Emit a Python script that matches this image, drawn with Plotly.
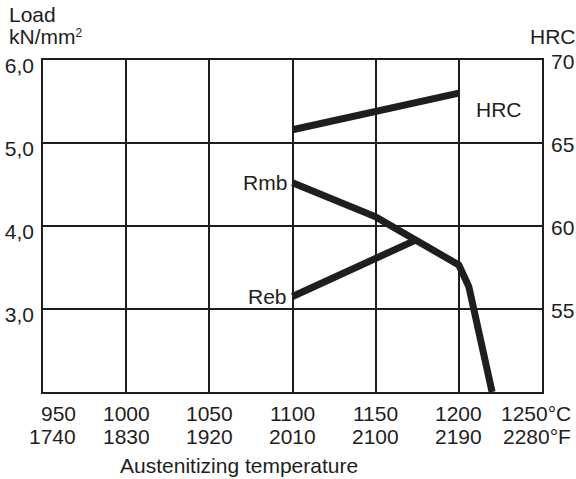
import plotly.graph_objects as go

# ---- data ----
temp_c_ticks = [950, 1000, 1050, 1100, 1150, 1200, 1250]
temp_c_labels = ["950", "1000", "1050", "1100", "1150", "1200", "1250°C"]
temp_f_labels = ["1740", "1830", "1920", "2010", "2100", "2190", "2280°F"]

load_ticks = [3, 4, 5, 6]
load_labels = ["3,0", "4,0", "5,0", "6,0"]
hrc_ticks = [55, 60, 65, 70]
hrc_labels = ["55", "60", "65", "70"]

hrc_t = [1100, 1200]
hrc_v = [65.8, 68.0]

rmb_t = [1100, 1150, 1200, 1206, 1220]
rmb_v = [4.52, 4.11, 3.53, 3.27, 2.0]

reb_t = [1100, 1174]
reb_v = [3.15, 3.83]

INK = "#1e1e1e"
FONT = "Liberation Sans, Arial, Helvetica, sans-serif"
FS = 21

fig = go.Figure()
line_style = dict(color=INK, width=7)
fig.add_trace(go.Scatter(x=rmb_t, y=rmb_v, mode="lines", line=line_style,
                         showlegend=False, hoverinfo="skip"))
fig.add_trace(go.Scatter(x=reb_t, y=reb_v, mode="lines", line=line_style,
                         showlegend=False, hoverinfo="skip"))
fig.add_trace(go.Scatter(x=hrc_t, y=hrc_v, mode="lines", line=line_style,
                         yaxis="y2", showlegend=False, hoverinfo="skip"))

ann = []
# bottom tick labels, two rows
for i, t in enumerate(temp_c_ticks):
    if i == 0:
        xa, xs = "right", 35
    elif i == len(temp_c_ticks) - 1:
        xa, xs = "right", 31
    else:
        xa, xs = "center", 0
    ann.append(dict(x=t, xref="x", y=0, yref="paper", text=temp_c_labels[i],
                    showarrow=False, xanchor=xa, xshift=xs, yanchor="middle",
                    yshift=-21, font=dict(size=FS, color=INK)))
    ann.append(dict(x=t, xref="x", y=0, yref="paper", text=temp_f_labels[i],
                    showarrow=False, xanchor=xa, xshift=xs, yanchor="middle",
                    yshift=-44, font=dict(size=FS, color=INK)))

ann.append(dict(x=1068, xref="x", y=0, yref="paper", text="Austenitizing temperature",
                showarrow=False, xanchor="center", yanchor="middle", yshift=-73,
                font=dict(size=FS, color=INK)))
ann.append(dict(x=0, xref="paper", y=1, yref="paper", text="Load",
                showarrow=False, xanchor="left", xshift=-36, yanchor="middle", yshift=46,
                font=dict(size=FS, color=INK)))
ann.append(dict(x=0, xref="paper", y=1, yref="paper",
                text="kN/mm<span style='font-size:17px'><sup>2</sup></span>",
                showarrow=False, xanchor="left", xshift=-36, yanchor="middle", yshift=24,
                font=dict(size=FS, color=INK)))
ann.append(dict(x=1, xref="paper", y=1, yref="paper", text="HRC",
                showarrow=False, xanchor="right", xshift=36, yanchor="middle", yshift=24,
                font=dict(size=FS, color=INK)))
# curve labels
ann.append(dict(x=1100, xref="x", y=4.52, yref="y", text="Rmb", showarrow=False,
                xanchor="right", xshift=-4, yanchor="middle", font=dict(size=FS, color=INK)))
ann.append(dict(x=1100, xref="x", y=3.15, yref="y", text="Reb", showarrow=False,
                xanchor="right", xshift=-4, yanchor="middle", font=dict(size=FS, color=INK)))
ann.append(dict(x=1209, xref="x", y=67.0, yref="y2", text="HRC", showarrow=False,
                xanchor="left", yanchor="middle", font=dict(size=FS, color=INK)))

fig.update_layout(
    template="none",
    width=576, height=479,
    margin=dict(l=43, r=34, t=60, b=87, autoexpand=False),
    paper_bgcolor="white", plot_bgcolor="white",
    font=dict(family=FONT, size=FS, color=INK),
    annotations=ann,
    xaxis=dict(range=[950, 1250], tickvals=temp_c_ticks[1:-1], showticklabels=False,
               showgrid=True, gridcolor=INK, gridwidth=1.5, zeroline=False, automargin=False,
               showline=True, mirror=True, linecolor=INK, linewidth=1.5, ticks=""),
    yaxis=dict(range=[2, 6], tickvals=load_ticks, ticktext=load_labels, automargin=False,
               showgrid=True, gridcolor=INK, gridwidth=1.5, zeroline=False,
               showline=True, mirror=True, linecolor=INK, linewidth=1.5, ticks="",
               ticklabelshift=6, ticklabelstandoff=3),
    yaxis2=dict(range=[50, 70], tickvals=hrc_ticks, ticktext=hrc_labels, overlaying="y",
                side="right", showgrid=False, zeroline=False, ticks="", automargin=False,
                ticklabelstandoff=8, ticklabelshift=2),
)

fig.write_html("out.html", config={"displayModeBar": False},
               post_script="document.body.style.margin='0';document.body.style.overflow='hidden';")
